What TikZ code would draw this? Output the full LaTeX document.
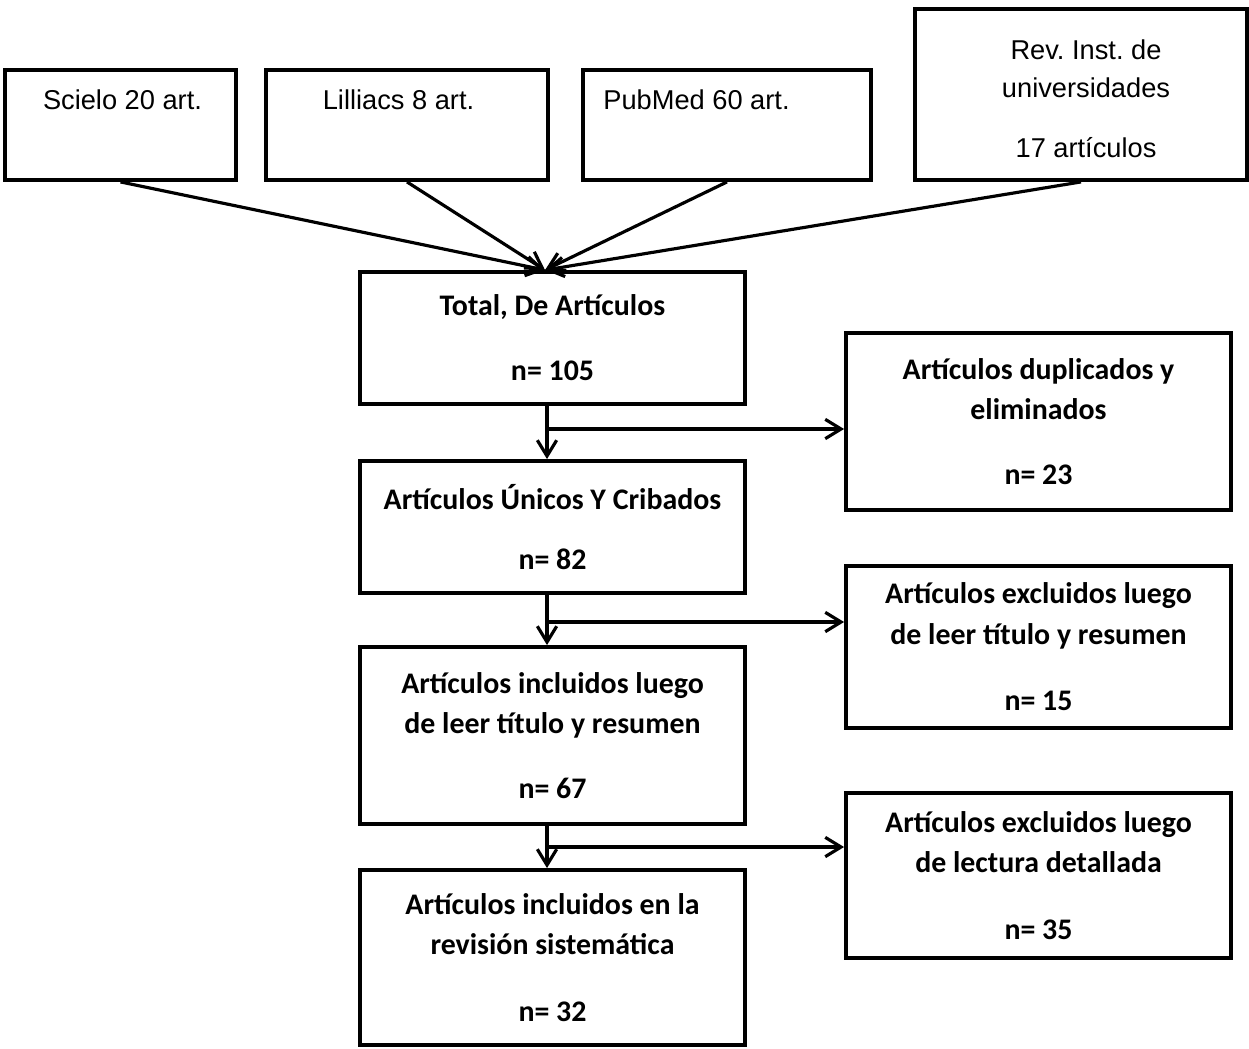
\documentclass[tikz,border=0pt]{standalone}
\usepackage{fontspec}
\setmainfont{Carlito}
\newfontfamily\arialfont{Liberation Sans}
\usetikzlibrary{arrows.meta, positioning}
\frenchspacing

\tikzset{
    srcbox/.style = {draw, line width = 2.2pt, rectangle, minimum height = 2.2cm},
    srctext/.style = {font = \arialfont\fontsize{15.5}{21.5}\selectfont, align = center, inner sep = 0pt},
    flowbox/.style = {draw, line width = 2.2pt, rectangle, minimum width = 7.7cm, align = center,
                      font = \bfseries\fontsize{17}{23}\selectfont},
    arr/.style = {-{Straight Barb[length = 9pt, width = 11pt, line width = 1.8pt]}, line width = 1.8pt},
}

\begin{document}
\begin{tikzpicture}
            \useasboundingbox (0, 0) rectangle (24.98, -20.96);
            \node[srcbox, minimum width = 4.62cm] (scielo) at (2.41, -2.5) {};
            \node[srcbox, minimum width = 5.64cm] (lilliacs) at (8.14, -2.5) {};
            \node[srcbox, minimum width = 5.76cm] (pubmed) at (14.54, -2.5) {};
            \node[srcbox, minimum width = 6.64cm, minimum height = 3.42cm] (rev) at (21.62, -1.89) {};
            \node[srctext] (scielotxt) at (2.45, -2.0) {Scielo 20 art.};
            \node[srctext] (lilliacstxt) at (7.97, -2.0) {Lilliacs 8 art.};
            \node[srctext] (pubmedtxt) at (13.93, -2.0) {PubMed 60 art.};
            \node[srctext] (revtxt) at (21.72, -1.98) {Rev. Inst. de\\universidades\\[12.5pt] 17 artículos};

            \node[flowbox, minimum height = 2.64cm] (total) at (11.05, -6.76) {Total, De Artículos\\[14pt] n= 105};
            \node[flowbox, minimum height = 2.64cm] (unicos) at (11.05, -10.54) {Artículos Únicos Y Cribados\\[11pt] n= 82};
            \node[flowbox, minimum height = 3.54cm] (incluidos) at (11.05, -14.71) {Artículos incluidos luego\\de leer título y resumen\\[14pt] n= 67};
            \node[flowbox, minimum height = 3.5cm] (revision) at (11.05, -19.15) {Artículos incluidos en la\\revisión sistemática\\[15pt] n= 32};
            \node[flowbox, minimum height = 3.54cm] (duplicados) at (20.77, -8.43) {Artículos duplicados y\\eliminados\\[14pt] n= 23};
            \node[flowbox, minimum height = 3.24cm] (excluidos) at (20.77, -12.94) {Artículos excluidos luego\\de leer título y resumen\\[15pt] n= 15};
            \node[flowbox, minimum height = 3.3cm] (lectura) at (20.77, -17.51) {Artículos excluidos luego\\de lectura detallada\\[15pt] n= 35};

            \coordinate (meet) at ([xshift = -0.15cm]total.north);
            \draw[arr] (scielo.south) -- (meet);
            \draw[arr] (lilliacs.south) -- (meet);
            \draw[arr] (pubmed.south) -- (meet);
            \draw[arr] (rev.south) -- (meet);

            \draw[arr] ([xshift = -0.11cm]total.south) -- ([xshift = -0.11cm]unicos.north);
            \draw[arr] ([xshift = -0.11cm]unicos.south) -- ([xshift = -0.11cm]incluidos.north);
            \draw[arr] ([xshift = -0.11cm]incluidos.south) -- ([xshift = -0.11cm]revision.north);

            \coordinate (fork1) at (10.94, -8.58);
            \coordinate (fork2) at (10.94, -12.44);
            \coordinate (fork3) at (10.94, -16.94);
            \draw[arr] (fork1) -- (fork1 -| duplicados.west);
            \draw[arr] (fork2) -- (fork2 -| excluidos.west);
            \draw[arr] (fork3) -- (fork3 -| lectura.west);
        \end{tikzpicture}
\end{document}
